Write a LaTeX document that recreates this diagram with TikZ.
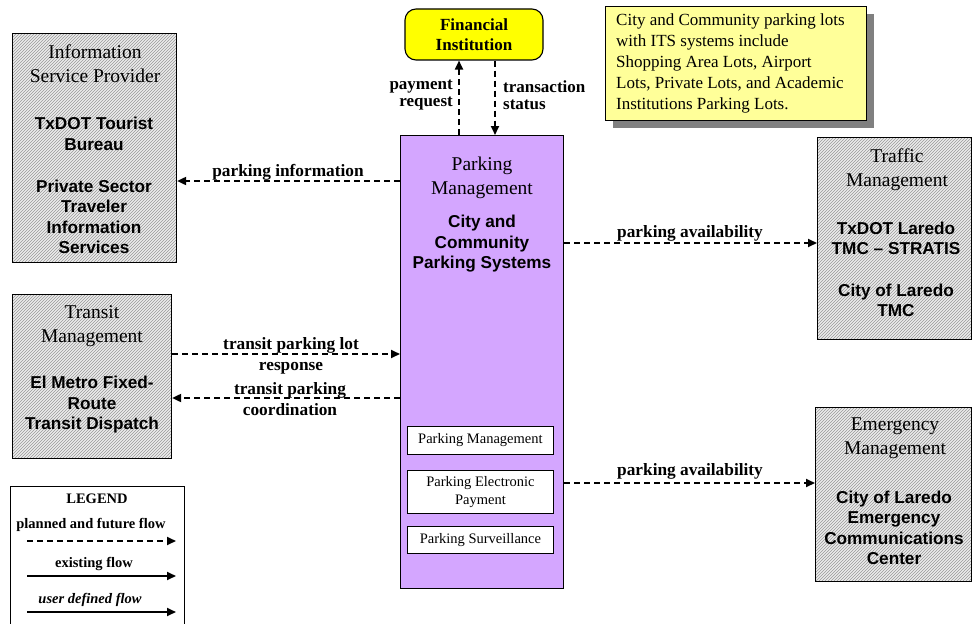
\documentclass[tikz,border=0pt]{standalone}
\usepackage{fontspec}
\setmainfont{Liberation Serif}
\setsansfont{Liberation Sans}
\usetikzlibrary{arrows.meta,patterns,shadows}
\definecolor{pmpurple}{RGB}{212,166,255}
\definecolor{fiyellow}{RGB}{255,255,0}
\definecolor{noteyellow}{RGB}{255,255,153}
\newcommand{\fsz}[2]{\fontsize{#1}{#2}\selectfont}
\tikzset{
  hatchbox/.style={draw=black, line width=1.1pt, preaction={fill=gray!15}, pattern=north east lines, pattern color=gray!80, anchor=north west, inner sep=0pt},
  headtxt/.style={font=\fsz{19.5}{24}, align=center, inner sep=0pt},
  subtxt/.style={font=\sffamily\bfseries\fsz{17.2}{20.5}, align=center, inner sep=0pt},
  lbl/.style={font=\bfseries\fsz{17.3}{20.5}, align=center, inner sep=0pt},
  flow/.style={line width=1.8pt, dash pattern=on 6pt off 4pt, -{Triangle[length=9pt,width=8pt]}},
  solidflow/.style={line width=1.8pt, -{Triangle[length=9pt,width=8pt]}},
  subbox/.style={draw=black, line width=0.9pt, fill=white, minimum width=146pt, anchor=north west, inner sep=0pt, font=\fsz{14.5}{18}, align=center},
  legtxt/.style={font=\bfseries\fsz{14.5}{16}, inner sep=0pt},
}
\begin{document}
\begin{tikzpicture}[x=1pt,y=-1pt]
\useasboundingbox (0,0) rectangle (973,623);

% ---------- Information Service Provider ----------
\node[hatchbox, minimum width=164pt, minimum height=229pt] (isp) at (12,33) {};
\node[headtxt] (isph) at (95,64) {Information\\Service Provider};
\node[subtxt] (isp1) at (94,134) {TxDOT Tourist\\Bureau};
\node[subtxt] (isp2) at (94,217) {Private Sector\\Traveler\\Information\\Services};

% ---------- Transit Management ----------
\node[hatchbox, minimum width=159pt, minimum height=164pt] (tm) at (12,294) {};
\node[headtxt] (tmh) at (92,326) {Transit\\Management};
\node[subtxt] (tm1) at (92,405) {El Metro Fixed-\\Route\\Transit Dispatch};

% ---------- Traffic Management ----------
\node[hatchbox, minimum width=154pt, minimum height=202pt] (trm) at (817,137) {};
\node[headtxt] (trmh) at (897,169.5) {Traffic\\Management};
\node[subtxt] (trm1) at (896,238.5) {TxDOT Laredo\\TMC -- STRATIS};
\node[subtxt] (trm2) at (896,300.5) {City of Laredo\\TMC};

% ---------- Emergency Management ----------
\node[hatchbox, minimum width=156pt, minimum height=174pt] (em) at (815,407) {};
\node[headtxt] (emh) at (895,438.5) {Emergency\\Management};
\node[subtxt] (em1) at (894,528) {City of Laredo\\Emergency\\Communications\\Center};

% ---------- Parking Management ----------
\node[draw=black, line width=1pt, fill=pmpurple, anchor=north west, minimum width=163pt, minimum height=453pt, inner sep=0pt] (pm) at (400,135) {};
\node[headtxt] (pmh) at (482,178) {Parking\\Management};
\node[subtxt] (pm1) at (482,244) {City and\\Community\\Parking Systems};
\node[subbox, minimum height=28pt] (s1) at (407,426) {Parking Management};
\node[subbox, minimum height=43pt] (s2) at (407,470) {Parking Electronic\\Payment};
\node[subbox, minimum height=27pt] (s3) at (407,526) {Parking Surveillance};

% ---------- Financial Institution ----------
\node[draw=black, line width=1.1pt, fill=fiyellow, rounded corners=11pt, minimum width=138pt, minimum height=51pt, inner sep=0pt, font=\bfseries\fsz{17}{20}, align=center] (fi) at (474,34.5) {Financial\\Institution};

% ---------- Note ----------
\node[draw=black, line width=0.9pt, fill=noteyellow, anchor=north west, minimum width=261pt, minimum height=114pt, inner sep=0pt,
  general shadow={fill=gray, shadow xshift=8pt, shadow yshift=-8pt}] (note) at (605,6) {};
\node[anchor=west, align=left, inner sep=0pt, font=\fsz{17}{21}] (notetxt) at (616,63)
  {City and Community parking lots\\with ITS systems include\\Shopping Area Lots, Airport\\Lots, Private Lots, and Academic\\Institutions Parking Lots.};

% ---------- Flows ----------
\draw[flow] (pm.west |- 0,181) -- (isp.east |- 0,181);
\node[lbl] (l1) at (288,172) {parking information};

\draw[flow] (pm.east |- 0,243) -- (trm.west |- 0,243);
\node[lbl] (l2) at (690,233) {parking availability};

\draw[flow] (tm.east |- 0,354) -- (pm.west |- 0,354);
\node[lbl] (l3) at (291,356) {transit parking lot\\response};

\draw[flow] (pm.west |- 0,398) -- (tm.east |- 0,398);
\node[lbl] (l4) at (290,399) {transit parking\\coordination};

\draw[flow] (pm.east |- 0,483) -- (em.west |- 0,483);
\node[lbl] (l5) at (690,471) {parking availability};

\draw[flow] (pm.north -| 459,0) -- (fi.south -| 459,0);
\node[lbl, align=right, anchor=east, font=\bfseries\fsz{17}{16.5}] (l6) at (453,95) {payment\\request};

\draw[flow] (fi.south -| 495,0) -- (pm.north -| 495,0);
\node[lbl, align=left, anchor=west, font=\bfseries\fsz{17}{16.5}] (l7) at (503,95) {transaction\\status};

% ---------- Legend ----------
\node[draw=black, line width=1.1pt, anchor=north west, minimum width=174pt, minimum height=145pt, inner sep=0pt] (legend) at (10,486) {};
\node[legtxt] (lg0) at (97,499) {LEGEND};
\node[legtxt] (lg1) at (91,525) {planned and future flow};
\coordinate (a1) at (27,541); \coordinate (b1) at (176,541);
\draw[flow] (a1) -- (b1);
\node[legtxt] (lg2) at (94,564) {existing flow};
\coordinate (a2) at (27,576); \coordinate (b2) at (176,576);
\draw[solidflow] (a2) -- (b2);
\node[legtxt, font=\bfseries\itshape\fsz{14.5}{16}] (lg3) at (90,600) {user defined flow};
\coordinate (a3) at (27,612); \coordinate (b3) at (176,612);
\draw[solidflow] (a3) -- (b3);
\end{tikzpicture}
\end{document}
